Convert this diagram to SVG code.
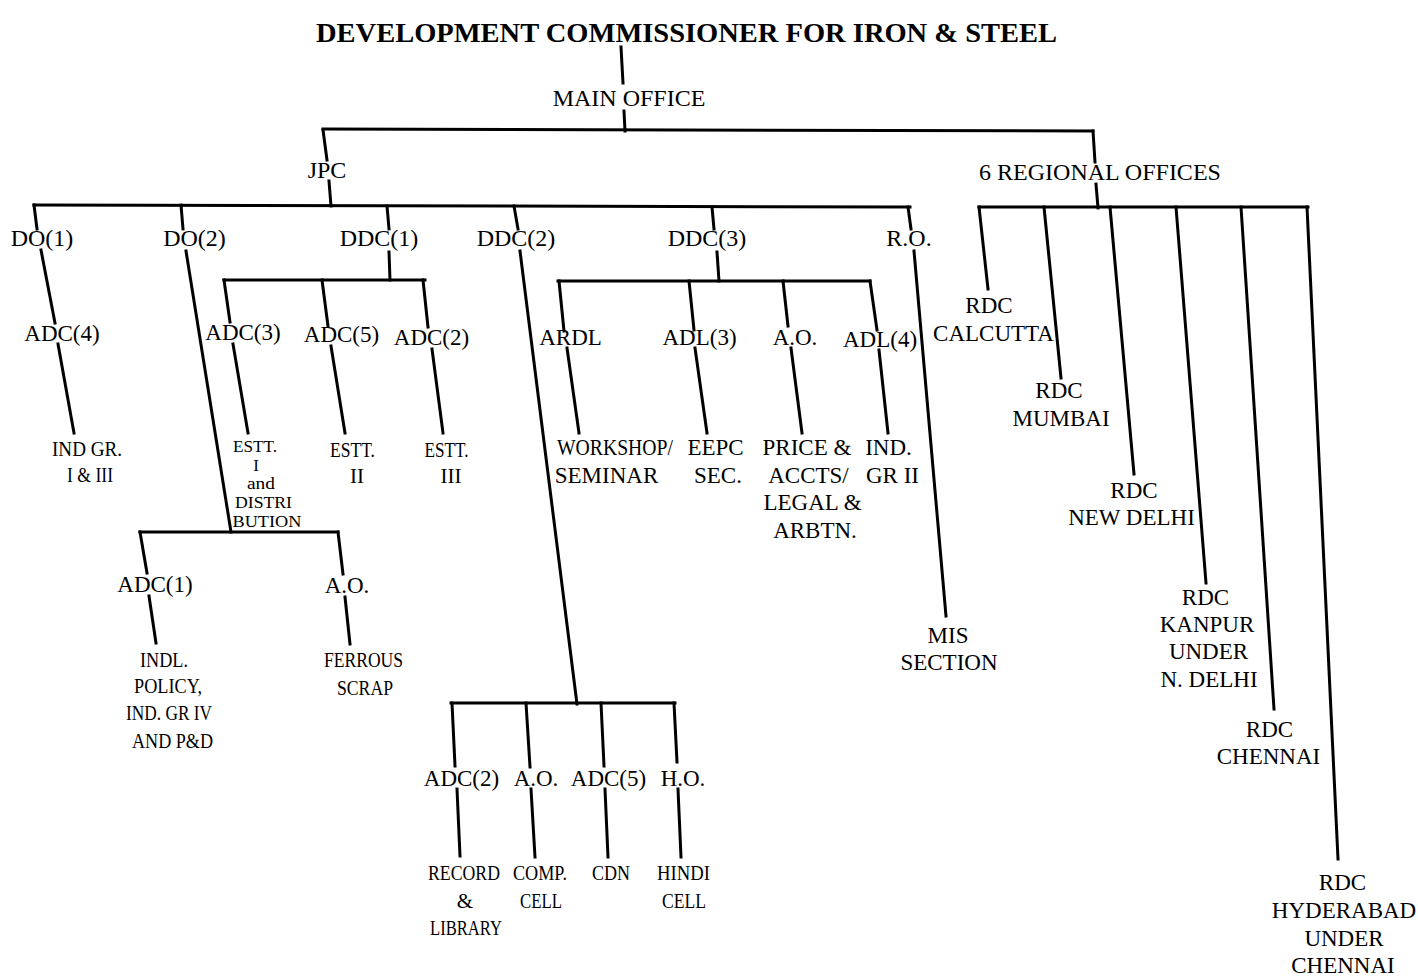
<svg xmlns="http://www.w3.org/2000/svg" width="1418" height="976" viewBox="0 0 1418 976">
<style>
text{font-family:"Liberation Serif","Times New Roman",serif;fill:#000;text-anchor:middle}
.t{font-size:28px;font-weight:bold}
.n{font-size:24px}
.m{font-size:23px}
.s{font-size:21px}
.e{font-size:17px}
#connectors line{stroke:#000;stroke-width:3;stroke-linecap:square}
</style>
<rect width="1418" height="976" fill="#fff"/>
<g id="connectors">
<line x1="621" y1="47" x2="623" y2="83"/>
<line x1="624" y1="111" x2="625" y2="131"/>
<line x1="323" y1="129" x2="1093" y2="131"/>
<line x1="323" y1="130" x2="327" y2="160"/>
<line x1="329" y1="181" x2="331" y2="206"/>
<line x1="1093" y1="131" x2="1095" y2="162"/>
<line x1="1096" y1="184" x2="1098" y2="208"/>
<line x1="34" y1="205" x2="910" y2="207"/>
<line x1="979" y1="207" x2="1308" y2="207"/>
<line x1="34" y1="205" x2="37" y2="229"/>
<line x1="41" y1="250" x2="55" y2="323"/>
<line x1="58" y1="344" x2="74" y2="433"/>
<line x1="181" y1="205" x2="183" y2="229"/>
<line x1="186" y1="251" x2="231" y2="532"/>
<line x1="140" y1="532" x2="338" y2="532"/>
<line x1="140" y1="532" x2="147" y2="573"/>
<line x1="149" y1="596" x2="156" y2="643"/>
<line x1="338" y1="532" x2="343" y2="574"/>
<line x1="345" y1="597" x2="350" y2="644"/>
<line x1="387" y1="206" x2="389" y2="229"/>
<line x1="389" y1="252" x2="390" y2="280"/>
<line x1="224" y1="280" x2="425" y2="280"/>
<line x1="224" y1="280" x2="230" y2="322"/>
<line x1="233" y1="344" x2="248" y2="433"/>
<line x1="322" y1="280" x2="328" y2="326"/>
<line x1="331" y1="346" x2="345" y2="433"/>
<line x1="423" y1="280" x2="428" y2="327"/>
<line x1="432" y1="349" x2="443" y2="433"/>
<line x1="514" y1="206" x2="518" y2="229"/>
<line x1="520" y1="251" x2="577" y2="704"/>
<line x1="451" y1="703" x2="675" y2="703"/>
<line x1="452" y1="703" x2="455" y2="766"/>
<line x1="457" y1="789" x2="460" y2="856"/>
<line x1="526" y1="703" x2="530" y2="767"/>
<line x1="531" y1="789" x2="535" y2="857"/>
<line x1="601" y1="703" x2="604" y2="766"/>
<line x1="605" y1="789" x2="608" y2="857"/>
<line x1="674" y1="703" x2="677" y2="762"/>
<line x1="678" y1="789" x2="681" y2="857"/>
<line x1="712" y1="207" x2="714" y2="229"/>
<line x1="717" y1="252" x2="719" y2="281"/>
<line x1="558" y1="281" x2="870" y2="281"/>
<line x1="559" y1="281" x2="564" y2="331"/>
<line x1="567" y1="348" x2="579" y2="433"/>
<line x1="689" y1="281" x2="694" y2="330"/>
<line x1="695" y1="348" x2="707" y2="433"/>
<line x1="783" y1="281" x2="788" y2="326"/>
<line x1="791" y1="348" x2="802" y2="433"/>
<line x1="870" y1="281" x2="877" y2="330"/>
<line x1="879" y1="350" x2="888" y2="433"/>
<line x1="908" y1="207" x2="911" y2="229"/>
<line x1="914" y1="251" x2="946" y2="616"/>
<line x1="979" y1="207" x2="988" y2="289"/>
<line x1="1044" y1="207" x2="1061" y2="378"/>
<line x1="1110" y1="207" x2="1134" y2="474"/>
<line x1="1176" y1="207" x2="1206" y2="583"/>
<line x1="1241" y1="207" x2="1274" y2="709"/>
<line x1="1307" y1="207" x2="1338" y2="859"/>
</g>
<g id="title"><text class="t" x="686.5" y="42" textLength="741" lengthAdjust="spacingAndGlyphs">DEVELOPMENT COMMISSIONER FOR IRON &amp; STEEL</text></g>
<g id="main-office"><text class="n" x="629" y="106">MAIN OFFICE</text></g>
<g id="jpc"><text class="n" x="327" y="178">JPC</text></g>
<g id="regional-offices"><text class="n" x="1100" y="180">6 REGIONAL OFFICES</text></g>
<g id="do1"><text class="n" x="42" y="246">DO(1)</text></g>
<g id="do2"><text class="n" x="194.5" y="246">DO(2)</text></g>
<g id="ddc1"><text class="n" x="379" y="246">DDC(1)</text></g>
<g id="ddc2"><text class="n" x="516" y="246">DDC(2)</text></g>
<g id="ddc3"><text class="n" x="707" y="246">DDC(3)</text></g>
<g id="ro"><text class="n" x="909" y="246">R.O.</text></g>
<g id="adc4"><text class="m" x="62" y="341">ADC(4)</text></g>
<g id="ind-gr-1-3"><text class="s" x="87" y="456" textLength="70" lengthAdjust="spacingAndGlyphs">IND GR.</text><text class="s" x="90" y="482" textLength="46" lengthAdjust="spacingAndGlyphs">I &amp; III</text></g>
<g id="adc3"><text class="m" x="243" y="340">ADC(3)</text></g>
<g id="adc5a"><text class="m" x="341.5" y="342">ADC(5)</text></g>
<g id="adc2a"><text class="m" x="431.5" y="345">ADC(2)</text></g>
<g id="estt1"><text class="e" x="255" y="452" textLength="44" lengthAdjust="spacingAndGlyphs">ESTT.</text><text class="e" x="256" y="471">I</text><text class="e" x="261" y="489" textLength="28" lengthAdjust="spacingAndGlyphs">and</text><text class="e" x="263.5" y="508" textLength="57" lengthAdjust="spacingAndGlyphs">DISTRI</text><text class="e" x="267" y="527" textLength="69" lengthAdjust="spacingAndGlyphs">BUTION</text></g>
<g id="estt2"><text class="s" x="352.5" y="457" textLength="45" lengthAdjust="spacingAndGlyphs">ESTT.</text><text class="s" x="357" y="483">II</text></g>
<g id="estt3"><text class="s" x="446.5" y="457" textLength="44" lengthAdjust="spacingAndGlyphs">ESTT.</text><text class="s" x="451" y="483">III</text></g>
<g id="ardl"><text class="m" x="570.5" y="345">ARDL</text></g>
<g id="adl3"><text class="m" x="699.5" y="345">ADL(3)</text></g>
<g id="ao-ddc3"><text class="m" x="795" y="345">A.O.</text></g>
<g id="adl4"><text class="m" x="880" y="347">ADL(4)</text></g>
<g id="workshop"><text class="m" x="615" y="455" textLength="116" lengthAdjust="spacingAndGlyphs">WORKSHOP/</text><text class="m" x="606.5" y="483">SEMINAR</text></g>
<g id="eepc"><text class="m" x="715.5" y="455">EEPC</text><text class="m" x="718" y="483">SEC.</text></g>
<g id="price"><text class="m" x="807" y="455">PRICE &amp;</text><text class="m" x="808.5" y="483">ACCTS/</text><text class="m" x="812.5" y="510">LEGAL &amp;</text><text class="m" x="815" y="538">ARBTN.</text></g>
<g id="ind-gr-2"><text class="m" x="888.5" y="455">IND.</text><text class="m" x="892.5" y="483">GR II</text></g>
<g id="mis"><text class="m" x="948" y="643">MIS</text><text class="m" x="949" y="670">SECTION</text></g>
<g id="adc1"><text class="m" x="155" y="592">ADC(1)</text></g>
<g id="ao-do2"><text class="m" x="347" y="593">A.O.</text></g>
<g id="indl-policy"><text class="s" x="164" y="667" textLength="48" lengthAdjust="spacingAndGlyphs">INDL.</text><text class="s" x="168" y="693" textLength="68" lengthAdjust="spacingAndGlyphs">POLICY,</text><text class="s" x="169" y="720" textLength="86" lengthAdjust="spacingAndGlyphs">IND. GR IV</text><text class="s" x="172.5" y="748" textLength="81" lengthAdjust="spacingAndGlyphs">AND P&amp;D</text></g>
<g id="ferrous"><text class="s" x="363.5" y="667" textLength="79" lengthAdjust="spacingAndGlyphs">FERROUS</text><text class="s" x="365" y="695" textLength="56" lengthAdjust="spacingAndGlyphs">SCRAP</text></g>
<g id="adc2b"><text class="m" x="461.5" y="786">ADC(2)</text></g>
<g id="ao-ddc2"><text class="m" x="536" y="786">A.O.</text></g>
<g id="adc5b"><text class="m" x="608.5" y="786">ADC(5)</text></g>
<g id="ho"><text class="m" x="683" y="786">H.O.</text></g>
<g id="record"><text class="s" x="464" y="880" textLength="72" lengthAdjust="spacingAndGlyphs">RECORD</text><text class="s" x="465" y="908">&amp;</text><text class="s" x="466" y="935" textLength="72" lengthAdjust="spacingAndGlyphs">LIBRARY</text></g>
<g id="comp"><text class="s" x="540" y="880" textLength="54" lengthAdjust="spacingAndGlyphs">COMP.</text><text class="s" x="541" y="908" textLength="42" lengthAdjust="spacingAndGlyphs">CELL</text></g>
<g id="cdn"><text class="s" x="611" y="880" textLength="38" lengthAdjust="spacingAndGlyphs">CDN</text></g>
<g id="hindi"><text class="s" x="683.5" y="880" textLength="53" lengthAdjust="spacingAndGlyphs">HINDI</text><text class="s" x="684" y="908" textLength="44" lengthAdjust="spacingAndGlyphs">CELL</text></g>
<g id="rdc-calcutta"><text class="m" x="989" y="313">RDC</text><text class="m" x="993.5" y="341">CALCUTTA</text></g>
<g id="rdc-mumbai"><text class="m" x="1059" y="398">RDC</text><text class="m" x="1061" y="426">MUMBAI</text></g>
<g id="rdc-newdelhi"><text class="m" x="1134" y="498">RDC</text><text class="m" x="1131.5" y="525">NEW DELHI</text></g>
<g id="rdc-kanpur"><text class="m" x="1205.5" y="605">RDC</text><text class="m" x="1207" y="632">KANPUR</text><text class="m" x="1208.5" y="659">UNDER</text><text class="m" x="1209" y="687">N. DELHI</text></g>
<g id="rdc-chennai"><text class="m" x="1269.5" y="737">RDC</text><text class="m" x="1268.5" y="764">CHENNAI</text></g>
<g id="rdc-hyderabad"><text class="m" x="1342.5" y="890">RDC</text><text class="m" x="1344" y="918">HYDERABAD</text><text class="m" x="1344" y="946">UNDER</text><text class="m" x="1343" y="973">CHENNAI</text></g>
</svg>
